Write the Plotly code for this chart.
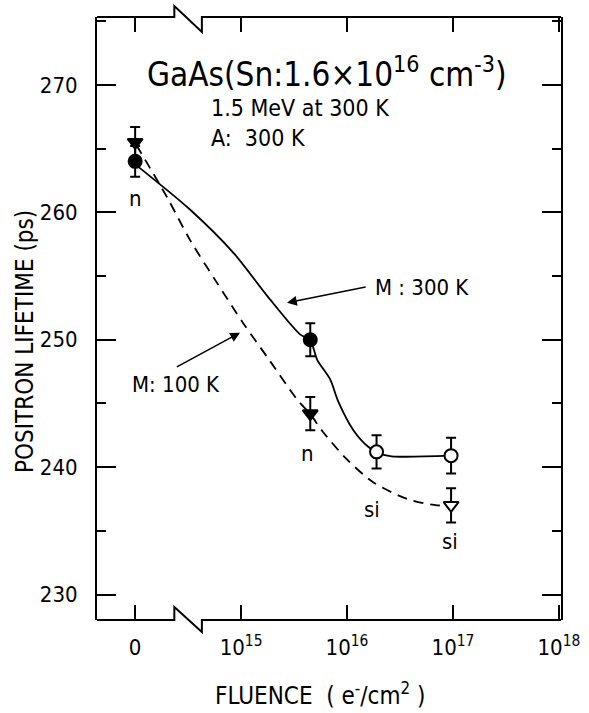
import numpy as np
import plotly.graph_objects as go

# ---------------- data ----------------
# measured points (fluence in e-/cm^2, lifetime in ps)
fluence_300 = [0, 4.5e15, 1.9e16, 9.6e16]
tau_300 = [264.0, 250.0, 241.2, 240.9]
err_300 = [1.2, 1.3, 1.3, 1.4]
fill_300 = ["black", "black", "white", "white"]

fluence_100 = [0, 4.5e15, 9.6e16]
tau_100 = [265.5, 244.2, 237.0]
err_100 = [1.2, 1.3, 1.35]
fill_100 = ["black", "black", "white"]

# hand-drawn guide curves (x in log10 fluence units; fluence 0 sits at 14)
curve_300_x = [13.98, 14.52, 14.93, 15.25, 15.56, 15.65, 15.72, 15.84, 15.92, 16.06, 16.20, 16.30, 16.42, 16.98]
curve_300_y = [263.9, 260.2, 256.8, 253.4, 250.4, 250.0, 248.4, 246.9, 245.1, 242.9, 241.6, 241.1, 240.85, 240.9]
curve_100_x = [14.01, 14.30, 14.52, 14.77, 15.02, 15.25, 15.53, 15.65, 15.77, 16.00, 16.25, 16.57, 16.85, 16.98]
curve_100_y = [265.3, 261.2, 257.8, 254.5, 251.3, 248.6, 245.3, 244.2, 242.8, 240.6, 238.8, 237.5, 237.0, 237.0]

x_tickvals_fluence = [0, 1e15, 1e16, 1e17, 1e18]
x_ticktext = ["0", "10<sup>15</sup>", "10<sup>16</sup>", "10<sup>17</sup>", "10<sup>18</sup>"]
y_tickvals = [230, 240, 250, 260, 270]

ZERO_POS = 14.0
XR = [13.64, 18.02]
YR = [228.0, 275.33]

W, H = 589, 713
ML, MR, MT, MB = 97, 28, 17, 93
PW, PH = W - ML - MR, H - MT - MB


def xpos(f):
    return [ZERO_POS if v == 0 else float(np.log10(v)) for v in f]


def px(x):
    return (x - XR[0]) / (XR[1] - XR[0])


FONT = "DejaVu Sans Condensed, DejaVu Sans"
fig = go.Figure()

fig.add_trace(go.Scatter(x=curve_300_x, y=curve_300_y, mode="lines",
                         line=dict(color="black", width=1.8, shape="spline", smoothing=0.8), hoverinfo="skip"))
fig.add_trace(go.Scatter(x=curve_100_x, y=curve_100_y, mode="lines",
                         line=dict(color="black", width=1.8, dash="10px,7px", shape="spline", smoothing=0.8),
                         hoverinfo="skip"))

fig.add_trace(go.Scatter(
    x=xpos(fluence_300), y=tau_300, mode="markers",
    error_y=dict(type="data", array=err_300, color="black", thickness=2, width=5),
    marker=dict(symbol="circle", size=13, color=fill_300, line=dict(color="black", width=2))))
fig.add_trace(go.Scatter(
    x=xpos(fluence_100), y=tau_100, mode="markers",
    error_y=dict(type="data", array=err_100, color="black", thickness=2, width=5),
    marker=dict(symbol="triangle-down", size=13, color=fill_100, line=dict(color="black", width=2))))

# axis break lines (bottom and top), in paper coordinates
b1, b2 = px(14.37), px(14.63)
bottom_path = f"M 0,0 L {b1},0 L {b1},{13/PH} L {b2},{-12/PH} L {b2},0 L 1,0"
top_path = f"M 0,1 L {b1},1 L {b1},{1 + 11/PH} L {b2},{1 - 15/PH} L {b2},1 L 1,1"
for p in (bottom_path, top_path):
    fig.add_shape(type="path", path=p, xref="paper", yref="paper",
                  line=dict(color="black", width=2))

ann = []
def txt(x, y, s, size=22, xanchor="center"):
    ann.append(dict(x=x, y=y, xref="x", yref="y", text=s, showarrow=False,
                    font=dict(family=FONT, size=size, color="black"), xanchor=xanchor, yanchor="middle"))

txt(15.81, 271.0, "GaAs(Sn:1.6×10<sup>16</sup> cm<sup>-3</sup>)", size=33)
txt(14.70, 268.2, "1.5 MeV at 300 K", size=23, xanchor="left")
txt(14.70, 265.8, "A:  300 K", size=23, xanchor="left")
txt(14.00, 261.1, "n", size=22)
txt(15.63, 241.1, "n", size=22)
txt(16.24, 236.7, "si", size=22)
txt(16.97, 234.2, "si", size=22)
txt(16.245, 254.1, "M : 300 K", size=22, xanchor="left")
txt(14.39, 246.5, "M: 100 K", size=22)

for hx, hy, tx, ty in [(15.434, 252.9, 16.19, 254.16), (14.99, 250.55, 14.38, 247.8)]:
    ann.append(dict(x=hx, y=hy, ax=tx, ay=ty, xref="x", yref="y", axref="x", ayref="y",
                    text="", showarrow=True, arrowhead=2, arrowsize=1.3, arrowwidth=1.5,
                    arrowcolor="black", standoff=0))

# axis titles as paper annotations
ann.append(dict(x=(25 - ML) / PW, y=(620 - 342) / PH, xref="paper", yref="paper",
                text="POSITRON LIFETIME (ps)", textangle=-90, showarrow=False,
                font=dict(family=FONT, size=24, color="black"), xanchor="center", yanchor="middle"))
ann.append(dict(x=(320 - ML) / PW, y=(620 - 694) / PH, xref="paper", yref="paper",
                text="FLUENCE  ( e<sup>-</sup>/cm<sup>2</sup> )", showarrow=False,
                font=dict(family=FONT, size=24, color="black"), xanchor="center", yanchor="middle"))

fig.update_layout(
    width=W, height=H,
    margin=dict(l=ML, r=MR, t=MT, b=MB),
    paper_bgcolor="white", plot_bgcolor="white",
    showlegend=False,
    font=dict(family=FONT, color="black", size=21),
    annotations=ann,
    xaxis=dict(range=XR, showgrid=False, zeroline=False, showline=False, automargin=False,
               tickvals=xpos(x_tickvals_fluence), ticktext=x_ticktext,
               ticks="inside", ticklen=15, tickwidth=2, tickcolor="black", mirror="ticks",
               tickfont=dict(family=FONT, size=22), ticklabelstandoff=12),
    yaxis=dict(range=YR, showgrid=False, zeroline=False, showline=True, linewidth=2, linecolor="black",
               automargin=False, mirror="ticks", tickvals=y_tickvals,
               ticks="inside", ticklen=19, tickwidth=2, tickcolor="black",
               minor=dict(dtick=5, tick0=0, ticks="inside", ticklen=9, tickwidth=2, tickcolor="black"),
               tickfont=dict(family=FONT, size=22), ticklabelstandoff=13),
)

fig.write_html("out.html")
